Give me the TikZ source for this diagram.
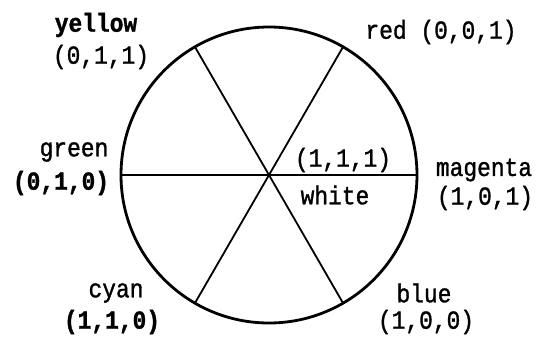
\documentclass[tikz,border=0pt]{standalone}
\usepackage{fontspec}
\setmonofont{Liberation Mono}
\newfontfamily\typew[FakeStretch=0.88,FakeBold=1.2]{Liberation Mono}
\newfontfamily\typewb[FakeStretch=0.88,FakeBold=1.2,UprightFont=*-Bold]{Liberation Mono}
\begin{document}
\begin{tikzpicture}[x=1pt,y=-1pt,
  lbl/.style={font=\typew\fontsize{26}{28}\selectfont, inner sep=0pt, anchor=center},
  blbl/.style={lbl, font=\typewb\fontsize{26}{28}\selectfont},
  spoke/.style={line width=1.8pt},
  rim/.style={line width=2.8pt}]
\useasboundingbox (0,0) rectangle (542,338);
\coordinate (c) at (269,175);
\draw[rim] (c) circle[radius=148];
\coordinate (ur) at (343,47);
\coordinate (ul) at (195,47);
\coordinate (ll) at (195,303);
\coordinate (lr) at (343,303);
\coordinate (l) at (121,175);
\coordinate (r) at (417,175);
\draw[spoke] (l) -- (r);
\draw[spoke] (ul) -- (lr);
\draw[spoke] (ur) -- (ll);
\node[blbl] (yel) at (96,25) {yellow};
\node[lbl] (yelv) at (101,57) {(0,1,1)};
\node[lbl] (red) at (441,32) {red (0,0,1)};
\node[lbl] (grn) at (74,152) {green};
\node[blbl] (grnv) at (61,183) {(0,1,0)};
\node[lbl] (whv) at (343,160) {(1,1,1)};
\node[lbl] (wh) at (335,195) {white};
\node[lbl] (mag) at (484,170) {magenta};
\node[lbl] (magv) at (485,198) {(1,0,1)};
\node[lbl] (cy) at (116,293) {cyan};
\node[blbl] (cyv) at (112,322) {(1,1,0)};
\node[lbl] (bl) at (424,293) {blue};
\node[lbl] (blv) at (426,322) {(1,0,0)};
\end{tikzpicture}
\end{document}
